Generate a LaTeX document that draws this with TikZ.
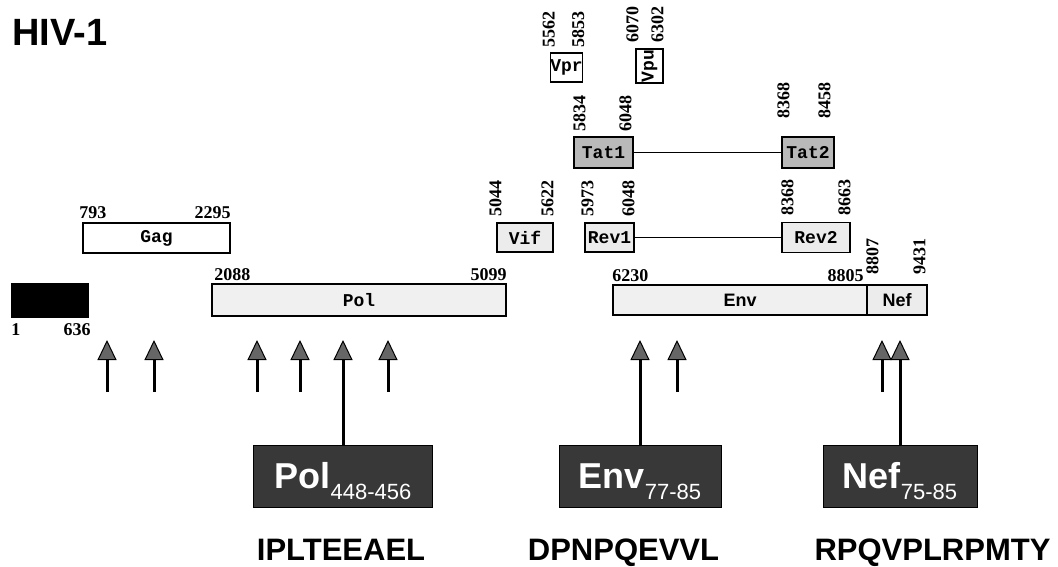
\documentclass[tikz,border=0pt]{standalone}
\usepackage{fontspec}
\setmainfont{Liberation Serif}
\setsansfont{Liberation Sans}
\setmonofont{Liberation Mono}
\usetikzlibrary{arrows.meta,positioning}

\newcommand\eplabel[2]{{\bfseries\fontsize{36}{36}\selectfont #1}\raisebox{-11pt}[0pt][0pt]{\fontsize{22}{22}\selectfont #2}}

\begin{document}
\begin{tikzpicture}[
    x=1pt, y=-1pt,
    every node/.style={inner sep=0pt},
    gene/.style={draw, line width=1.5pt, font=\ttfamily\bfseries\fontsize{18}{18}\selectfont},
    num/.style={font=\bfseries\fontsize{18}{18}\selectfont},
    vnum/.style={num, rotate=90},
    epitope/.style={draw, line width=1pt, fill=black!78, text=white, minimum height=62pt, font=\sffamily},
    peptide/.style={anchor=base, font=\sffamily\bfseries\fontsize{31}{31}\selectfont},
    link/.style={line width=1.2pt},
    site/.style={line width=3pt, -{Triangle[width=19pt,length=20pt,line width=1pt,fill=black!60]}}
  ]
  \useasboundingbox (0,0) rectangle (1058,567);

  \node[anchor=north west, font=\sffamily\bfseries\fontsize{38}{38}\selectfont] (title) at (12,19) {HIV-1};

  % genome
  \node[gene, fill=black, minimum width=76pt, minimum height=33pt] (ltr) at (50,300.5) {};
  \node[gene, minimum width=147pt, minimum height=30pt] (gag) at (156.5,238) {Gag};
  \node[gene, fill=gray!12, minimum width=294pt, minimum height=32pt] (pol) at (359,300) {Pol};
  \node[gene, fill=gray!15, minimum width=56pt, minimum height=29pt] (vif) at (525,237.5) {Vif};
  \node[gene, minimum width=31pt, minimum height=29pt] (vpr) at (566.5,67.5) {Vpr};
  \node[gene, minimum width=27pt, minimum height=34pt] (vpu) at (649.5,66) {\rotatebox{90}{Vpu}};
  \node[gene, fill=gray!55, minimum width=59pt, minimum height=31pt] (tat1) at (603.5,152.5) {Tat1};
  \node[gene, fill=gray!55, minimum width=52pt, minimum height=31pt] (tat2) at (808,152.5) {Tat2};
  \node[gene, fill=gray!15, minimum width=49pt, minimum height=29pt] (rev1) at (609.5,237.5) {Rev1};
  \node[gene, fill=gray!15, minimum width=68pt, minimum height=30pt] (rev2) at (816,237.5) {Rev2};
  \node[gene, fill=gray!12, minimum width=254pt, minimum height=30pt, font=\sffamily\bfseries\fontsize{18}{18}\selectfont] (env) at (740,300) {Env};
  \node[gene, fill=gray!15, minimum width=60pt, minimum height=30pt, font=\sffamily\bfseries\fontsize{18}{18}\selectfont] (nef) at (897,300) {Nef};

  \draw[link] (tat1) -- (tat2);
  \draw[link] (rev1) -- (rev2);

  % positions
  \node[num, below right=6pt and 0pt of ltr.south west] (n1) {1};
  \node[num, below left=6pt and -2pt of ltr.south east] (n636) {636};
  \node[num, above right=3pt and -3pt of gag.north west] (n793) {793};
  \node[num, above left=3pt and 0pt of gag.north east] (n2295) {2295};
  \node[num, above right=2pt and 3pt of pol.north west] (n2088) {2088};
  \node[num, above left=2pt and 0pt of pol.north east] (n5099) {5099};
  \node[num, above right=2pt and 0pt of env.north west] (n6230) {6230};
  \node[num, above left=2pt and 4pt of env.north east] (n8805) {8805};

  \node[vnum, anchor=north west] (n5562) at ([xshift=-7pt,yshift=5pt]vpr.north west) {5562};
  \node[vnum, anchor=south west] (n5853) at ([xshift=1pt,yshift=5pt]vpr.north east) {5853};
  \node[vnum, anchor=north west] (n6070) at ([xshift=-9pt,yshift=6pt]vpu.north west) {6070};
  \node[vnum, anchor=south west] (n6302) at ([yshift=6pt]vpu.north east) {6302};
  \node[vnum, anchor=north west] (n5834) at ([yshift=5pt]tat1.north west) {5834};
  \node[vnum, anchor=south west] (n6048a) at ([xshift=-2pt,yshift=5pt]tat1.north east) {6048};
  \node[vnum, anchor=north west] (n8368a) at ([xshift=-4pt,yshift=18pt]tat2.north west) {8368};
  \node[vnum, anchor=south west] (n8458) at ([xshift=-4pt,yshift=18pt]tat2.north east) {8458};
  \node[vnum, anchor=north west] (n5044) at ([xshift=-7pt,yshift=6pt]vif.north west) {5044};
  \node[vnum, anchor=south west] (n5622) at ([yshift=6pt]vif.north east) {5622};
  \node[vnum, anchor=north west] (n5973) at ([xshift=-3pt,yshift=6pt]rev1.north west) {5973};
  \node[vnum, anchor=south west] (n6048b) at ([yshift=6pt]rev1.north east) {6048};
  \node[vnum, anchor=north west] (n8368b) at ([yshift=6pt]rev2.north west) {8368};
  \node[vnum, anchor=south west] (n8663) at ([yshift=6pt]rev2.north east) {8663};
  \node[vnum, anchor=north west] (n8807) at ([yshift=10pt]nef.north west) {8807};
  \node[vnum, anchor=south west] (n9431) at ([xshift=-2pt,yshift=10pt]nef.north east) {9431};

  % epitopes
  \node[epitope, minimum width=179pt] (polep) at (343,476) {\eplabel{Pol}{448-456}};
  \node[epitope, minimum width=162pt] (envep) at (640,476) {\eplabel{Env}{77-85}};
  \node[epitope, minimum width=154pt] (nefep) at (900,476) {\eplabel{Nef}{75-85}};

  \node[peptide] (polseq) at (341,560) {IPLTEEAEL};
  \node[peptide] (envseq) at (623.5,560) {DPNPQEVVL};
  \node[peptide] (nefseq) at (932.5,560) {RPQVPLRPMTY};

  % sites
  \coordinate (a1) at (107,392); \coordinate (h1) at (107,340);
  \coordinate (a2) at (154,392); \coordinate (h2) at (154,340);
  \coordinate (a3) at (257,392); \coordinate (h3) at (257,340);
  \coordinate (a4) at (300,392); \coordinate (h4) at (300,340);
  \coordinate (a5) at (388,392); \coordinate (h5) at (388,340);
  \coordinate (a6) at (677,392); \coordinate (h6) at (677,340);
  \coordinate (a7) at (882,392); \coordinate (h7) at (882,340);
  \coordinate (hp) at (343,340);
  \coordinate (he) at (640,340);
  \coordinate (hn) at (900,340);

  \draw[site] (a1) -- (h1);
  \draw[site] (a2) -- (h2);
  \draw[site] (a3) -- (h3);
  \draw[site] (a4) -- (h4);
  \draw[site] (a5) -- (h5);
  \draw[site] (a6) -- (h6);
  \draw[site] (a7) -- (h7);
  \draw[site] (polep.north) -- (hp);
  \draw[site] (envep.north) -- (he);
  \draw[site] (nefep.north) -- (hn);
\end{tikzpicture}
\end{document}
